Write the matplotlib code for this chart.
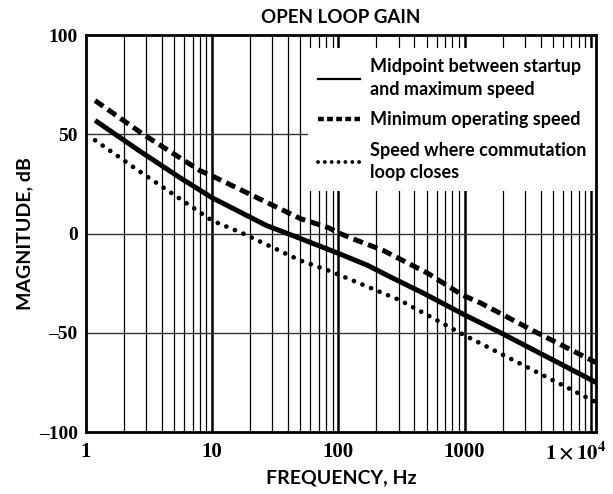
import numpy as np
import matplotlib
matplotlib.use("Agg")
import matplotlib.pyplot as plt
from matplotlib.lines import Line2D
from matplotlib.ticker import FixedLocator, NullFormatter
import matplotlib.transforms as mtransforms

plt.rcParams["mathtext.fontset"] = "stix"

# values (frequency in Hz, magnitude in dB)
f_mid = [1.18, 2.6, 5.6, 10, 27, 50, 100, 170, 270, 470, 1000, 1930, 11000]
g_mid = [57, 42, 28, 18, 4, -2.5, -10, -16, -22.5, -30, -41, -50, -75]

f_min = [1.18, 2.84, 8, 10, 50, 83, 103, 141, 226, 510, 960, 1340, 3500, 11000]
g_min = [67, 50, 31.7, 29, 7.5, 3, 0, -3.5, -8.5, -20, -31, -35, -49, -65]

f_com = [1.18, 2.6, 10, 17.6, 50, 83, 103, 310, 980, 11000]
g_com = [47, 31.7, 6.5, 0, -13.6, -18.6, -21, -33.7, -51, -85]

xtick_vals = [1, 10, 100, 1000, 10000]
xtick_labels = ["1", "10", "100", "1000", r"$\mathbf{1\times10^4}$"]
ytick_vals = [-100, -50, 0, 50, 100]
ytick_labels = ["\u2013100", "\u201350", "0", "50", "100"]

labels = ["Midpoint between startup\nand maximum speed",
          "Minimum operating speed",
          "Speed where commutation\nloop closes"]

sans = ["Lato", "DejaVu Sans"]
serif = ["Liberation Serif", "DejaVu Serif"]

fig = plt.figure(figsize=(6.13, 4.94), dpi=100)
ax = fig.add_axes([0.1403, 0.1255, 0.8320, 0.8035])
ax.set_xscale("log")
ax.set_xlim(1, 1.1e4)
ax.set_ylim(-100, 100)

# grid: every 1..9 per decade, decades heavier, horizontal at +/-50 and 0
minor = [m * 10 ** d for d in range(0, 5) for m in range(2, 10) if m * 10 ** d < 1.1e4]
for x in minor:
    ax.axvline(x, color="black", lw=0.9, zorder=1)
for x in [10, 100, 1000, 10000]:
    ax.axvline(x, color="black", lw=1.8, zorder=1)
for y in [-50, 0, 50]:
    ax.axhline(y, color="#333333", lw=1.0, zorder=1)

ax.plot(f_mid, g_mid, color="black", lw=3.6, solid_capstyle="butt", solid_joinstyle="round", zorder=3)
ax.plot(f_min, g_min, color="black", lw=3.6, ls=(0, (2.0, 1.1)), dash_capstyle="butt", zorder=3)
ax.plot(f_com, g_com, color="black", lw=3.4, ls=(0, (0.01, 1.95)), dash_capstyle="round", zorder=3)

handles = [Line2D([], [], color="black", lw=1.6),
           Line2D([], [], color="black", lw=3.2, ls=(0, (1.3, 0.75))),
           Line2D([], [], color="black", lw=2.8, ls=(0, (0.01, 1.75)), dash_capstyle="round")]
leg = ax.legend(handles, labels, loc="upper right", bbox_to_anchor=(1.0, 0.967),
                borderaxespad=0, frameon=True, fancybox=False, framealpha=1,
                facecolor="white", edgecolor="none", handlelength=2.3,
                handletextpad=0.55, labelspacing=0.75, borderpad=0.55,
                prop={"family": sans, "weight": "bold", "size": 13})
for t in leg.get_texts():
    t.set_linespacing(1.4)
leg.set_zorder(5)

ax.xaxis.set_minor_formatter(NullFormatter())
ax.xaxis.set_minor_locator(FixedLocator([]))
ax.set_xticks(xtick_vals)
ax.set_xticklabels(xtick_labels, family=serif, weight="bold", fontsize=15)
ax.set_yticks(ytick_vals)
ax.set_yticklabels(ytick_labels, family=serif, weight="bold", fontsize=14)
ax.tick_params(axis="x", length=0, pad=7)
ax.tick_params(axis="y", length=0, pad=6)
lab = ax.get_xticklabels()[-1]
lab.set_horizontalalignment("right")
lab.set_transform(lab.get_transform() + mtransforms.ScaledTranslation(0.15, 0, fig.dpi_scale_trans))

for s in ax.spines.values():
    s.set_linewidth(2.0)
    s.set_zorder(6)

ax.set_title("OPEN LOOP GAIN", family=sans, weight="bold", fontsize=13.5, pad=9)
ax.set_xlabel("FREQUENCY, Hz", family=sans, weight="bold", fontsize=14)
ax.set_ylabel("MAGNITUDE, dB", family=sans, weight="bold", fontsize=14)
ax.xaxis.set_label_coords(0.5, -0.116)
ax.xaxis.label.set_va("center")
ax.yaxis.set_label_coords(-0.12, 0.5)
ax.yaxis.label.set_va("center")

fig.savefig("out.png", dpi=100)
